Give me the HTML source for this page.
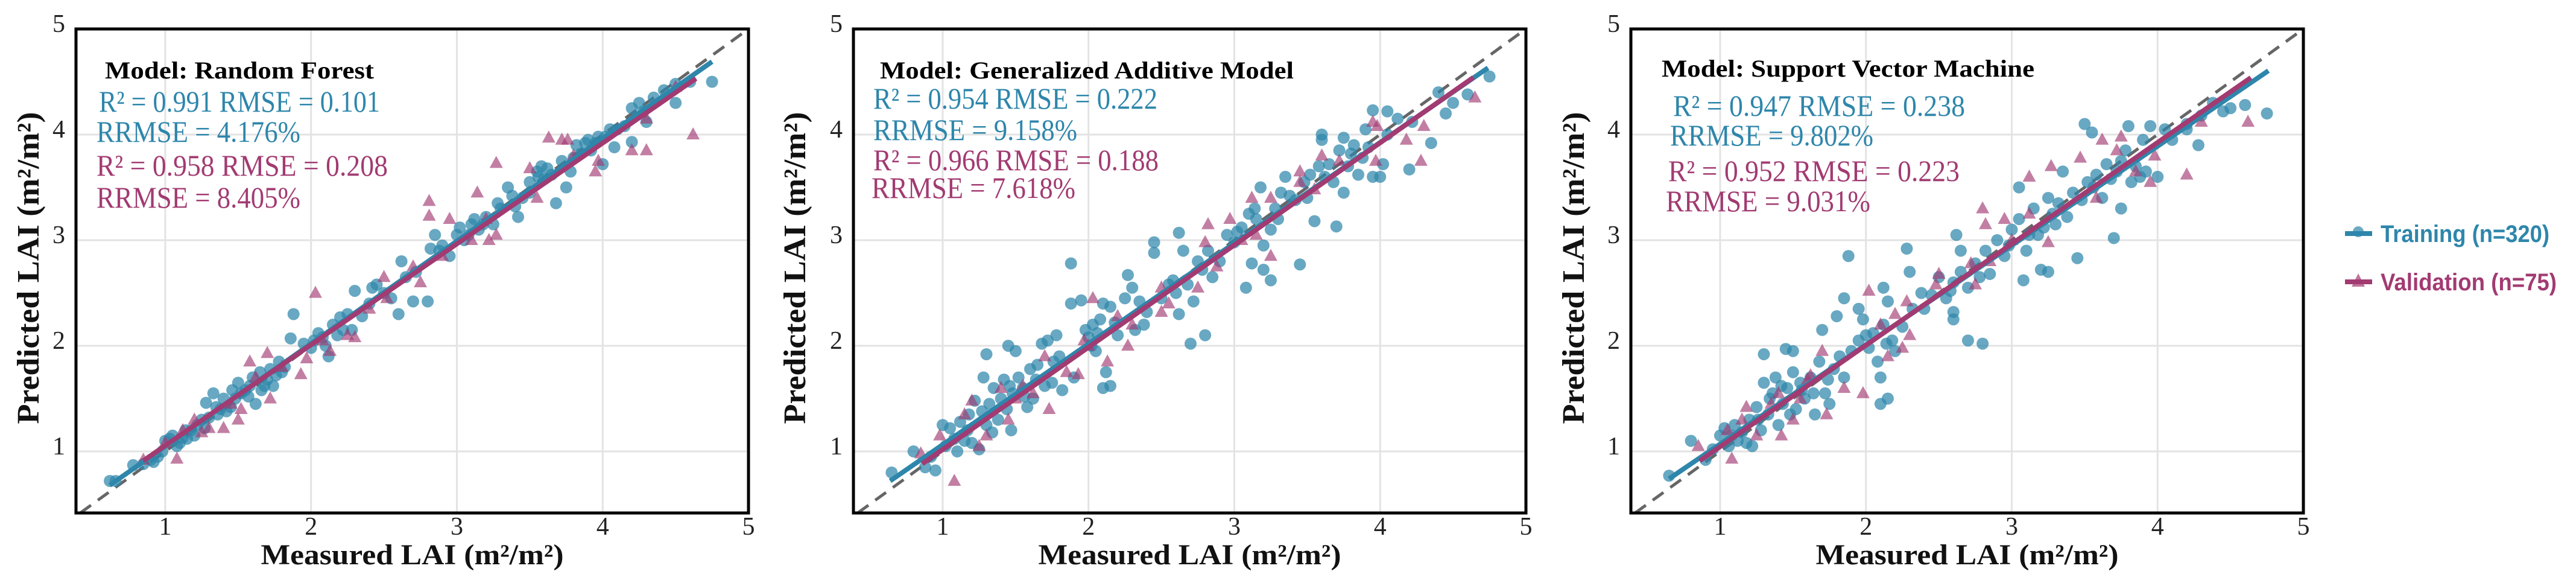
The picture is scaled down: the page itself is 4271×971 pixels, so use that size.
<!DOCTYPE html>
<html><head><meta charset="utf-8"><style>
html,body{margin:0;padding:0;background:#fff;}
svg{display:block;}
</style></head><body>
<svg id="chart" width="4271" height="971" viewBox="0 0 4271 971" xmlns="http://www.w3.org/2000/svg"></svg>
<script>
// ---- data ----
const modelNames = ["Random Forest","Generalized Additive Model","Support Vector Machine"];
const trainStats = [["R² = 0.991 RMSE = 0.101","RRMSE = 4.176%"],["R² = 0.954 RMSE = 0.222","RRMSE = 9.158%"],["R² = 0.947  RMSE = 0.238","RRMSE = 9.802%"]];
const validStats = [["R² = 0.958  RMSE = 0.208","RRMSE = 8.405%"],["R² = 0.966 RMSE = 0.188","RRMSE = 7.618%"],["R² = 0.952  RMSE = 0.223","RRMSE = 9.031%"]];
const tickValues = [1,2,3,4,5];
const legendLabels = ["Training (n=320)","Validation (n=75)"];
const trainFitSlope = [0.971,0.954,0.94];
const trainFitIntercept = [0.078,0.11,0.13];
const trainFitRange = [[0.62,4.75],[0.64,4.74],[0.65,4.76]];
const validFitSlope = [0.955,0.968,0.96];
const validFitIntercept = [0.10,0.05,0.085];
const validFitRange = [[0.85,4.64],[0.86,4.64],[0.86,4.64]];

const rfTrain = [[0.62,0.72],[0.66,0.72],[0.78,0.87],[0.85,0.88],[0.9,0.92],[0.95,0.95],[1.0,1.1],[1.03,1.12],[1.08,1.05],[1.12,1.13],[1.18,1.2],[1.2,1.15],[1.25,1.3],[1.28,1.46],[1.33,1.55],[1.36,1.35],[1.4,1.5],[1.45,1.42],[1.5,1.65],[1.52,1.55],[1.58,1.62],[1.62,1.45],[1.65,1.75],[1.7,1.68],[1.74,1.62],[1.78,1.85],[1.82,1.8],[1.86,2.07],[1.88,2.3],[1.95,2.02],[2.0,1.98],[2.05,2.12],[2.1,2.0],[2.12,1.9],[2.15,2.2],[2.2,2.27],[2.28,2.15],[2.3,2.52],[2.35,2.28],[2.4,2.4],[2.45,2.58],[2.5,2.5],[2.55,2.45],[2.6,2.3],[2.62,2.8],[2.65,2.65],[2.7,2.42],[2.72,2.7],[2.8,2.42],[2.82,2.92],[2.85,3.05],[2.9,2.95],[2.95,2.85],[3.0,3.05],[3.02,3.12],[3.08,3.05],[3.12,3.2],[3.15,3.1],[3.2,3.22],[3.25,3.15],[3.3,3.3],[3.35,3.5],[3.38,3.42],[3.42,3.22],[3.45,3.4],[3.5,3.55],[3.55,3.65],[3.58,3.7],[3.6,3.58],[3.68,3.35],[3.72,3.75],[3.75,3.5],[3.78,3.65],[3.82,3.9],[3.88,3.92],[3.92,3.85],[3.97,3.98],[4.0,3.72],[4.05,4.05],[4.08,3.88],[4.15,4.08],[4.2,3.93],[4.2,4.25],[4.25,4.3],[4.3,4.12],[4.35,4.35],[4.42,4.42],[4.5,4.3],[4.5,4.48],[4.6,4.5],[4.75,4.5],[1.05,1.15],[1.1,1.08],[1.15,1.12],[1.22,1.25],[1.3,1.32],[1.35,1.42],[1.42,1.38],[1.48,1.5],[1.55,1.58],[1.6,1.7],[1.68,1.62],[1.72,1.78],[1.8,1.75],[2.08,2.08],[2.18,2.1],[2.25,2.3],[3.05,3.0],[3.18,3.15],[3.5,3.45],[3.62,3.68],[3.85,3.82],[3.95,3.92],[4.1,4.05],[0.92,0.9],[0.98,1.0],[1.14,1.2],[1.27,1.22],[1.38,1.4],[1.46,1.58],[1.57,1.52],[1.66,1.58],[1.76,1.72],[2.02,2.05],[2.22,2.15],[2.42,2.55],[2.88,2.9],[3.1,3.15],[3.28,3.35],[3.4,3.32],[3.56,3.6],[3.65,3.62],[3.8,3.78],[3.9,3.95],[4.02,3.98],[4.28,4.22]];
const rfValid = [[0.85,0.92],[1.0,1.08],[1.08,0.93],[1.12,1.2],[1.2,1.3],[1.25,1.18],[1.3,1.22],[1.4,1.22],[1.45,1.45],[1.5,1.3],[1.52,1.4],[1.58,1.85],[1.62,1.7],[1.7,1.93],[1.72,1.5],[1.8,1.8],[1.93,1.73],[1.97,1.88],[2.03,2.5],[2.08,2.05],[2.13,1.95],[2.25,2.1],[2.3,2.08],[2.4,2.35],[2.5,2.65],[2.52,2.45],[2.7,2.75],[2.75,2.6],[2.81,3.37],[2.81,3.23],[2.9,2.85],[2.95,3.2],[3.1,3.0],[3.14,3.45],[3.2,3.2],[3.22,3.0],[3.27,3.73],[3.27,3.05],[3.5,3.68],[3.55,3.4],[3.63,3.97],[3.72,3.95],[3.76,3.95],[3.8,3.8],[3.95,3.65],[3.97,3.75],[4.2,3.85],[4.3,3.85],[4.3,4.15],[4.62,4.0],[4.5,4.45]];
const gamTrain = [[0.65,0.8],[0.95,0.82],[1.0,1.25],[1.3,1.92],[1.45,2.0],[1.5,1.95],[1.47,1.2],[1.88,2.78],[1.88,2.4],[1.95,2.43],[2.1,2.4],[2.15,2.37],[2.1,1.6],[2.15,1.62],[2.12,1.75],[2.45,2.98],[2.45,2.88],[2.62,3.07],[2.65,2.9],[2.27,2.67],[2.7,2.02],[2.8,2.1],[2.62,2.3],[3.08,2.55],[3.25,2.62],[3.2,2.72],[3.45,2.77],[3.55,3.18],[3.7,3.13],[3.75,3.45],[3.35,3.6],[3.18,3.5],[3.95,4.23],[4.05,4.22],[4.2,3.67],[4.35,3.92],[4.45,4.2],[4.5,4.3],[4.6,4.38],[4.75,4.55],[3.6,3.95],[3.6,4.0],[3.75,3.97],[3.9,4.05],[3.95,3.6],[4.0,3.6],[0.8,1.0],[0.88,0.85],[0.92,0.95],[1.02,1.05],[1.05,1.22],[1.08,1.12],[1.1,1.0],[1.12,1.28],[1.15,1.1],[1.18,1.35],[1.2,1.08],[1.22,1.48],[1.25,1.02],[1.28,1.7],[1.3,1.25],[1.32,1.45],[1.35,1.6],[1.38,1.3],[1.4,1.5],[1.42,1.68],[1.44,1.4],[1.48,1.55],[1.52,1.7],[1.55,1.6],[1.58,1.42],[1.6,1.78],[1.62,1.5],[1.65,1.82],[1.68,2.02],[1.7,1.62],[1.72,2.05],[1.75,1.65],[1.78,2.1],[1.8,1.9],[1.82,1.58],[1.9,1.7],[1.98,2.15],[2.0,2.08],[2.03,2.2],[2.05,1.95],[2.08,2.25],[2.2,2.1],[2.25,2.45],[2.3,2.55],[2.32,2.15],[2.35,2.42],[2.4,2.32],[2.5,2.45],[2.55,2.58],[2.6,2.5],[2.68,2.58],[2.72,2.42],[2.78,2.72],[2.82,2.9],[2.85,2.65],[2.9,2.8],[2.95,3.05],[3.0,2.98],[3.05,3.12],[3.1,3.25],[3.12,2.78],[3.15,3.2],[3.2,2.95],[3.25,3.1],[3.28,3.3],[3.32,3.45],[3.38,3.42],[3.42,3.38],[3.48,3.55],[3.52,3.62],[3.58,3.7],[3.62,3.6],[3.68,3.55],[3.72,3.85],[3.78,3.7],[3.82,3.9],[3.85,3.62],[3.88,3.78],[4.02,3.72],[4.05,4.0],[4.12,4.15],[4.22,4.12],[4.4,4.4],[1.17,1.2],[1.27,1.38],[1.34,1.18],[1.46,1.62],[1.56,1.52],[1.64,1.68],[1.76,1.85],[2.02,2.0],[2.06,2.12],[2.18,2.22],[2.38,2.2],[2.58,2.62],[2.75,2.8],[3.02,3.08],[3.14,3.3],[3.3,3.2],[3.5,3.4],[3.65,3.72],[3.8,3.82],[3.92,3.88]];
const gamValid = [[0.85,0.98],[1.08,0.72],[0.98,1.15],[1.2,1.48],[1.25,1.05],[1.4,1.6],[1.45,1.3],[1.5,1.5],[1.7,1.9],[1.73,1.4],[1.85,1.75],[1.93,1.73],[1.97,2.05],[2.03,2.45],[2.0,2.0],[2.13,1.85],[2.2,2.28],[2.27,2.0],[2.5,2.55],[2.5,2.32],[2.55,2.4],[2.75,2.55],[2.8,2.98],[2.82,3.15],[2.88,2.75],[2.97,3.2],[3.15,3.05],[3.25,2.85],[3.25,3.4],[3.12,3.4],[3.45,3.55],[3.55,3.48],[3.6,3.8],[3.72,3.75],[3.95,4.12],[3.98,4.08],[3.97,3.75],[4.18,3.95],[4.28,3.75],[4.3,4.08],[4.65,4.35],[3.45,3.65],[1.15,1.35],[1.3,1.15],[1.55,1.62],[1.62,1.55],[2.3,2.2],[3.05,3.0]];
const svmTrain = [[0.65,0.77],[0.8,1.1],[1.3,1.92],[1.5,1.95],[1.45,1.97],[1.88,2.85],[1.8,2.28],[1.85,2.45],[1.95,2.35],[2.12,2.55],[2.15,2.42],[2.1,1.45],[2.15,1.5],[2.1,1.7],[2.28,2.92],[2.3,2.7],[2.62,3.05],[2.65,2.9],[2.6,2.25],[2.6,2.32],[2.7,2.05],[2.8,2.02],[3.08,2.62],[3.2,2.72],[3.25,2.7],[3.45,2.83],[3.7,3.02],[3.75,3.3],[3.5,4.1],[3.55,4.02],[3.8,4.08],[3.95,4.08],[4.0,3.6],[4.2,4.05],[4.28,3.9],[4.45,4.22],[4.5,4.25],[4.6,4.28],[4.75,4.2],[3.05,3.5],[3.35,3.65],[3.25,3.4],[0.9,0.92],[0.95,1.02],[1.0,1.15],[1.03,1.22],[1.06,1.05],[1.1,1.25],[1.12,1.1],[1.15,1.18],[1.2,1.3],[1.22,1.05],[1.25,1.42],[1.28,1.2],[1.3,1.65],[1.33,1.35],[1.36,1.55],[1.38,1.7],[1.4,1.25],[1.43,1.45],[1.46,1.6],[1.5,1.75],[1.52,1.4],[1.55,1.65],[1.58,1.5],[1.62,1.7],[1.65,1.35],[1.68,1.85],[1.7,2.15],[1.72,1.55],[1.75,1.45],[1.78,1.78],[1.82,1.9],[1.85,1.7],[1.9,1.95],[1.95,2.05],[1.98,2.25],[2.02,1.98],[2.05,2.12],[2.08,1.85],[2.12,2.2],[2.18,2.05],[2.2,1.95],[2.25,2.18],[2.32,2.35],[2.38,2.5],[2.45,2.48],[2.5,2.65],[2.55,2.45],[2.6,2.6],[2.65,2.7],[2.7,2.55],[2.75,2.78],[2.82,2.9],[2.85,2.68],[2.9,3.0],[2.95,2.85],[3.0,3.1],[3.05,3.2],[3.1,2.9],[3.15,3.3],[3.18,3.05],[3.22,3.12],[3.28,3.25],[3.32,3.35],[3.38,3.22],[3.42,3.45],[3.48,3.38],[3.52,3.55],[3.58,3.62],[3.62,3.4],[3.65,3.72],[3.68,3.58],[3.72,3.65],[3.78,3.85],[3.82,3.55],[3.85,3.7],[3.9,3.95],[3.92,3.65],[4.05,4.05],[4.1,3.95],[4.2,4.1],[4.3,4.18],[4.38,4.3],[1.08,1.15],[1.18,1.08],[1.26,1.3],[1.34,1.5],[1.42,1.62],[1.48,1.35],[1.56,1.58],[1.64,1.55],[1.74,1.68],[2.0,2.1],[2.14,2.02],[2.4,2.35],[2.58,2.52],[2.78,2.65],[2.98,2.95],[3.12,3.05],[3.3,3.15],[3.56,3.5],[3.75,3.75],[3.88,3.6]];
const svmValid = [[0.85,1.05],[1.08,0.93],[1.05,1.2],[1.18,1.42],[1.25,1.15],[1.4,1.55],[1.42,1.15],[1.5,1.3],[1.6,1.68],[1.7,1.95],[1.73,1.35],[1.85,1.6],[1.98,1.55],[2.02,2.52],[2.1,2.2],[2.15,1.9],[2.2,2.3],[2.25,1.98],[2.28,2.42],[2.3,2.1],[2.5,2.68],[2.48,2.58],[2.72,2.78],[2.75,2.58],[2.8,3.3],[2.82,3.15],[2.85,2.8],[2.95,3.2],[3.0,3.0],[3.12,3.25],[3.25,2.98],[3.27,3.7],[3.12,3.6],[3.47,3.78],[3.58,3.4],[3.62,3.95],[3.72,3.85],[3.75,3.98],[3.85,3.65],[3.95,3.55],[3.98,3.8],[4.2,3.62],[4.3,4.12],[4.62,4.12],[1.15,1.3],[1.35,1.45],[1.55,1.5],[1.62,1.72]];

const trainSets = [rfTrain, gamTrain, svmTrain];
const validSets = [rfValid, gamValid, svmValid];

// ---- layout ----
const NS = "http://www.w3.org/2000/svg";
const svg = document.getElementById("chart");
const panelLeft = [126, 1415, 2704];
const PW = 1115, PT = 48, PB = 850;
const X0 = 0.388, Y0 = 0.417, MAXV = 5;
const BLUE = "#2e86ab", MAG = "#a23b72";
const titleW = [446, 686, 618];
const statW = [[466,338,483,338],[471,338,473,338],[484,337,483,339]];
const titleX = [48, 44, 51];
const statX = [[38,34,34,34],[33,33,33,30],[70,65,62,58]];
const lineY = [[130,185,235,291,344],[130,180,232,282,328],[127,192,241,300,350]];
const yTitleX = [62, 80, 78];

function mk(tag, attrs, parent) {
  const e = document.createElementNS(NS, tag);
  for (const k in attrs) e.setAttribute(k, attrs[k]);
  (parent || svg).appendChild(e);
  return e;
}

for (let p = 0; p < 3; p++) {
  const L = panelLeft[p];
  const xs = v => L + (v - X0) / (MAXV - X0) * PW;
  const ys = v => PB - (v - Y0) / (MAXV - Y0) * (PB - PT);
  const g = mk("g", {});
  
  
  const clipId = "clip" + p;
  const cp = mk("clipPath", {id: clipId}, g);
  mk("rect", {x: L, y: PT, width: PW, height: PB - PT}, cp);

  tickValues.forEach(t => {
    const gx = mk("line", {x1: xs(t), x2: xs(t), y1: PT, y2: PB, stroke: "#e3e3e3", "stroke-width": 3}, g);
    
    
    const gy = mk("line", {x1: L, x2: L + PW, y1: ys(t), y2: ys(t), stroke: "#e3e3e3", "stroke-width": 3}, g);
    
    
  });
  const dl = mk("line", {x1: xs(Y0), y1: ys(Y0), x2: xs(MAXV), y2: ys(MAXV), stroke: "#666", "stroke-width": 5, "stroke-dasharray": "22 14", "clip-path": "url(#" + clipId + ")"}, g);
  
  

  trainSets[p].forEach(d => {
    const c = mk("circle", {cx: xs(d[0]), cy: ys(d[1]), r: 10, fill: BLUE, "fill-opacity": 0.72}, g);
    
    
  });
  validSets[p].forEach(d => {
    const cx = xs(d[0]), cy = ys(d[1]);
    const t = mk("polygon", {points: `${cx},${cy-12} ${cx-11},${cy+8} ${cx+11},${cy+8}`, fill: MAG, "fill-opacity": 0.65}, g);
    
    
  });
  const tr = trainFitRange[p];
  const f1 = mk("line", {x1: xs(tr[0]), y1: ys(trainFitSlope[p]*tr[0]+trainFitIntercept[p]), x2: xs(tr[1]), y2: ys(trainFitSlope[p]*tr[1]+trainFitIntercept[p]), stroke: BLUE, "stroke-width": 8}, g);
  
  
  const vr = validFitRange[p];
  const f2 = mk("line", {x1: xs(vr[0]), y1: ys(validFitSlope[p]*vr[0]+validFitIntercept[p]), x2: xs(vr[1]), y2: ys(validFitSlope[p]*vr[1]+validFitIntercept[p]), stroke: MAG, "stroke-width": 8}, g);
  
  

  const fr = mk("rect", {x: L, y: PT, width: PW, height: PB - PT, fill: "none", stroke: "#000", "stroke-width": 5}, g);
  
  

  tickValues.forEach(t => {
    const tx = mk("text", {x: xs(t), y: 886, "text-anchor": "middle", "font-family": "Liberation Serif, serif", "font-size": 42, fill: "#222"}, g);
    tx.textContent = t;
    
    
    const ty = mk("text", {x: L - 18, y: ys(t) + 5, "text-anchor": "end", "font-family": "Liberation Serif, serif", "font-size": 42, fill: "#222"}, g);
    ty.textContent = t;
    
    
  });

  const xt = mk("text", {x: L + PW / 2, y: 935, "text-anchor": "middle", "font-family": "Liberation Serif, serif", "font-weight": "bold", "font-size": 48, fill: "#111", textLength: 502, lengthAdjust: "spacingAndGlyphs"}, g);
  xt.textContent = "Measured LAI (m²/m²)";
  
  
  const yx = L - yTitleX[p];
  const yt = mk("text", {x: yx, y: 444, "text-anchor": "middle", "font-family": "Liberation Serif, serif", "font-weight": "bold", "font-size": 52, fill: "#111", transform: `rotate(-90 ${yx} 444)`, textLength: 517, lengthAdjust: "spacingAndGlyphs"}, g);
  yt.textContent = p === 0 ? "Predicted LAI  (m²/m²)" : "Predicted LAI (m²/m²)";
  
  

  const mt = mk("text", {x: L + titleX[p], y: lineY[p][0], "font-family": "Liberation Serif, serif", "font-weight": "bold", "font-size": 40, fill: "#000", textLength: titleW[p], lengthAdjust: "spacingAndGlyphs"}, g);
  mt.textContent = "Model: " + modelNames[p];
  
  
  const lines = [trainStats[p][0], trainStats[p][1], validStats[p][0], validStats[p][1]];
  lines.forEach((s, i) => {
    const st = mk("text", {x: L + statX[p][i], y: lineY[p][i + 1], "font-family": "Liberation Serif, serif", "font-size": 50, fill: i < 2 ? BLUE : MAG, textLength: statW[p][i], lengthAdjust: "spacingAndGlyphs"}, g);
    st.textContent = s;
    
    
  });
}

const lg = mk("g", {});


const legY = [387, 467];
const legC = [BLUE, MAG];
legendLabels.forEach((lab, i) => {
  const e = mk("g", {}, lg);
  
  
  const y = legY[i];
  mk("line", {x1: 3888, x2: 3933, y1: y, y2: y, stroke: legC[i], "stroke-width": 8}, e);
  if (i === 0) mk("circle", {cx: 3910, cy: y - 3, r: 9, fill: legC[i], "fill-opacity": 0.7}, e);
  else mk("polygon", {points: `3910,${y-14} 3899,${y+8} 3921,${y+8}`, fill: legC[i], "fill-opacity": 0.7}, e);
  const t = mk("text", {x: 3947, y: y + 14, "font-family": "Liberation Sans, sans-serif", "font-weight": "bold", "font-size": 40, fill: legC[i], textLength: i === 0 ? 280 : 292, lengthAdjust: "spacingAndGlyphs"}, e);
  t.textContent = lab;
});
</script>
</body></html>
